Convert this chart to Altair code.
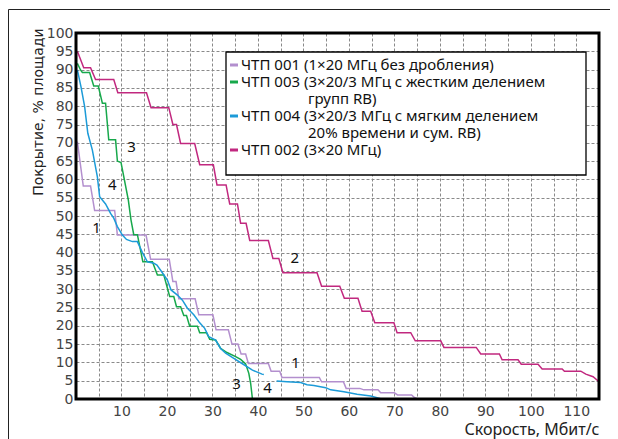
import altair as alt
import pandas as pd

# ---------------- data ----------------
series_keys = ["ЧТП 001", "ЧТП 003", "ЧТП 004", "ЧТП 002"]
series_colors = ["#b38fce", "#17a84b", "#1c9bd8", "#c1287f"]

# ЧТП 001 (1x20 МГц без дробления)
s001_x = [0.3, 1.6, 3.2, 4.1, 8.5, 9.1, 15.4, 16.4, 20.5, 21.3, 22.0, 22.6, 26.2, 27.0,
          30.1, 30.8, 33.5, 34.3, 35.6, 36.3, 37.3, 37.9, 42.3, 42.9, 44.8, 45.3, 53.5,
          54.0, 58.8, 59.4, 62.4, 63.3, 66.4, 67.0, 70.0, 70.7, 73.8, 74.4, 75.0]
s001_y = [70.3, 58.2, 58.2, 51.5, 51.5, 44.8, 44.8, 38.2, 38.2, 32.1, 32.1, 27.4, 27.4, 23.0,
          23.0, 18.9, 18.9, 15.0, 15.0, 12.3, 12.3, 9.7, 9.7, 7.6, 7.6, 5.9, 5.9,
          4.7, 4.7, 2.9, 2.9, 2.5, 2.5, 1.7, 1.7, 1.1, 1.1, 0.4, 0.1]

# ЧТП 003 (3x20/3 МГц, жесткое деление)
s003_x = [0.3, 1.0, 1.4, 3.0, 3.9, 4.9, 5.8, 6.5, 7.2, 8.7, 9.1, 9.9, 11.5, 12.1, 12.7, 13.5,
          14.7, 16.8, 17.9, 19.3, 20.6, 21.5, 22.1, 23.0, 23.7, 24.3, 25.0, 26.7, 27.2, 28.7,
          29.4, 30.7, 31.8, 33.2, 35.1, 36.2, 37.3, 38.0, 38.4, 38.8]
s003_y = [91.7, 89.9, 89.2, 89.2, 85.5, 85.5, 80.8, 80.8, 70.8, 70.8, 65.0, 64.6, 54.4, 48.9, 44.9, 44.9,
          37.5, 37.5, 33.9, 33.9, 28.0, 28.0, 25.2, 25.2, 22.8, 22.8, 19.9, 19.9, 18.1, 18.1,
          16.3, 16.1, 13.8, 12.7, 11.6, 10.8, 9.6, 7.0, 4.3, 0.0]

# ЧТП 004 (3x20/3 МГц, мягкое деление) -- drawn in two pieces
s004a_x = [0.3, 1.1, 1.9, 2.6, 3.6, 4.7, 5.2, 6.5, 7.6, 8.3, 9.1, 10.2, 11.1, 12.4, 13.5, 14.6,
           15.7, 17.1, 17.8, 19.1, 20.1, 20.9, 22.3, 23.4, 24.5, 25.9, 27.2, 28.3, 29.2, 30.7,
           31.8, 32.9, 34.7, 36.5, 38.8, 40.9, 41.3]
s004a_y = [89.9, 85.3, 79.9, 72.6, 68.0, 60.7, 55.3, 53.3, 50.7, 49.4, 47.1, 44.8, 43.6, 43.0, 43.0, 40.0,
           37.5, 37.1, 36.6, 34.3, 32.5, 29.8, 28.4, 27.0, 24.8, 23.0, 20.8, 19.3, 17.0, 16.1,
           13.8, 12.5, 11.1, 9.7, 7.9, 6.8, 6.7]
s004b_x = [44.1, 46.4, 49.4, 50.8, 52.3, 54.9, 56.0, 58.9, 61.8, 64.8, 67.0]
s004b_y = [4.9, 4.7, 4.5, 3.9, 3.7, 3.1, 2.5, 2.0, 1.3, 0.8, 0.1]

# ЧТП 002 (3x20 МГц)
s002_x = [0.3, 1.7, 3.2, 4.3, 8.3, 9.2, 15.5, 16.5, 20.4, 21.3, 22.1, 23.0, 26.1, 27.2, 30.2,
          31.0, 33.0, 33.8, 35.5, 36.2, 37.4, 38.2, 42.3, 43.3, 44.6, 45.5, 53.0, 54.0, 58.0,
          59.0, 62.0, 62.9, 64.8, 65.7, 69.9, 70.6, 73.6, 74.6, 80.2, 80.9, 88.0, 89.0, 93.1,
          93.7, 97.2, 97.9, 101.6, 102.5, 106.9, 107.4, 111.0, 112.1, 113.7, 115.0]
s002_y = [95.0, 90.5, 90.5, 87.3, 87.3, 83.7, 83.7, 79.6, 79.6, 75.0, 75.0, 69.8, 69.8, 64.0, 64.0,
          58.5, 58.5, 53.3, 53.3, 48.0, 48.0, 43.3, 43.3, 38.4, 38.4, 34.5, 34.5, 30.8, 30.8,
          27.5, 27.5, 24.0, 24.0, 20.8, 20.8, 18.1, 18.1, 15.9, 15.9, 14.1, 14.1, 12.3, 12.3,
          10.7, 10.7, 9.5, 9.5, 8.2, 8.2, 7.6, 7.6, 6.8, 6.1, 4.7]

# curve number labels
ann_text = ["1", "4", "3", "2", "1", "3", "4"]
ann_x = [4.5, 8.0, 12.2, 48.1, 48.3, 35.3, 42.1]
ann_y = [46.7, 58.5, 68.9, 38.5, 9.8, 4.1, 3.0]

legend_lines = [
    ("ЧТП 001 (1×20 МГц без дробления)", "ЧТП 001"),
    ("ЧТП 003 (3×20/3 МГц с жестким делением", "ЧТП 003"),
    ("групп RB)", None),
    ("ЧТП 004 (3×20/3 МГц с мягким делением", "ЧТП 004"),
    ("20% времени и сум. RB)", None),
    ("ЧТП 002 (3×20 МГц)", "ЧТП 002"),
]

x_title = "Скорость, Мбит/с"
y_title = "Покрытие, % площади"
x_ticks = list(range(0, 116, 5))
y_ticks = list(range(0, 101, 5))

# ---------------- build table ----------------
rows = []
for key, seg, xs, ys in [
    ("ЧТП 001", "a", s001_x, s001_y),
    ("ЧТП 003", "a", s003_x, s003_y),
    ("ЧТП 004", "a", s004a_x, s004a_y),
    ("ЧТП 004", "b", s004b_x, s004b_y),
    ("ЧТП 002", "a", s002_x, s002_y),
]:
    for i, (xv, yv) in enumerate(zip(xs, ys)):
        rows.append({"series": key, "seg": key + seg, "x": xv, "y": yv, "i": i})
df = pd.DataFrame(rows)
ann = pd.DataFrame({"t": ann_text, "x": ann_x, "y": ann_y})

W, H = 523, 366
xscale = alt.Scale(domain=[0, 115], nice=False, zero=False)
yscale = alt.Scale(domain=[0, 100], nice=False, zero=False)
color_scale = alt.Scale(domain=series_keys, range=series_colors)

x_axis = alt.Axis(
    values=x_ticks,
    labelExpr="(datum.value % 10 == 0 && datum.value > 0) ? datum.label : ''",
    labelOverlap=False, grid=True, gridDash=[3, 2], gridColor="#8a8a8a", gridWidth=1,
    ticks=False, domain=False,
    labelFont="DejaVu Sans", labelFontSize=14, labelColor="#444444", labelPadding=5,
    title=x_title, titleAnchor="end", titleFont="Noto Sans", titleFontSize=16,
    titleFontWeight="normal", titleColor="#222222", titlePadding=3,
)
y_axis = alt.Axis(
    values=y_ticks,
    labelOverlap=False, grid=True, gridDash=[3, 2], gridColor="#8a8a8a", gridWidth=1,
    ticks=False, domain=False,
    labelFont="DejaVu Sans", labelFontSize=14, labelColor="#444444", labelPadding=3,
    title=y_title, titleAnchor="end", titleFont="DejaVu Sans", titleFontSize=14,
    titleFontWeight="normal", titleColor="#222222", titlePadding=1, titleY=-5,
)

lines = alt.Chart(df).mark_line(strokeWidth=1.5, clip=True).encode(
    x=alt.X("x:Q", scale=xscale, axis=x_axis),
    y=alt.Y("y:Q", scale=yscale, axis=y_axis),
    color=alt.Color("series:N", scale=color_scale, legend=None),
    detail="seg:N",
    order="i:Q",
)

labels = alt.Chart(ann).mark_text(font="Noto Sans", fontSize=15, color="#111111").encode(
    x=alt.X("x:Q", scale=xscale, axis=x_axis),
    y=alt.Y("y:Q", scale=yscale, axis=y_axis),
    text="t:N",
)

one = pd.DataFrame({"k": [0]})

# plot border
border = alt.Chart(one).mark_rect(fillOpacity=0, stroke="black", strokeWidth=3).encode(
    x=alt.value(0), x2=alt.value(W), y=alt.value(0), y2=alt.value(H)
)
# outer frame (only top and left edges are inside the picture)
frame = alt.Chart(one).mark_rect(fillOpacity=0, stroke="#222222", strokeWidth=1).encode(
    x=alt.value(-67.5), x2=alt.value(W + 80), y=alt.value(-23.5), y2=alt.value(H + 80)
)

# legend box and entries
leg_left, leg_top = 150, 19
legend_box = alt.Chart(one).mark_rect(fill="white", stroke="black", strokeWidth=1.3).encode(
    x=alt.value(leg_left), x2=alt.value(leg_left + 360),
    y=alt.value(leg_top), y2=alt.value(leg_top + 123)
)
legend_layers = [legend_box]
for idx, (txt, key) in enumerate(legend_lines):
    ly = leg_top + 13 + 17 * idx
    tx = leg_left + 15 if key else leg_left + 82
    legend_layers.append(
        alt.Chart(pd.DataFrame({"t": [txt]})).mark_text(
            font="Noto Sans", fontSize=15, color="#111111", align="left", baseline="middle"
        ).encode(x=alt.value(tx), y=alt.value(ly), text="t:N")
    )
    if key:
        legend_layers.append(
            alt.Chart(pd.DataFrame({"series": [key]})).mark_rule(strokeWidth=3).encode(
                x=alt.value(leg_left + 4), x2=alt.value(leg_left + 12), y=alt.value(ly),
                color=alt.Color("series:N", scale=color_scale, legend=None),
            )
        )

chart = alt.layer(lines, labels, frame, border, *legend_layers).properties(
    width=W, height=H,
    padding={"left": 68, "top": 25, "right": 11, "bottom": 48},
    autosize=alt.AutoSizeParams(type="none"),
).configure_view(stroke=None)

chart.save("out.html", embed_options={"renderer": "svg", "actions": False})
